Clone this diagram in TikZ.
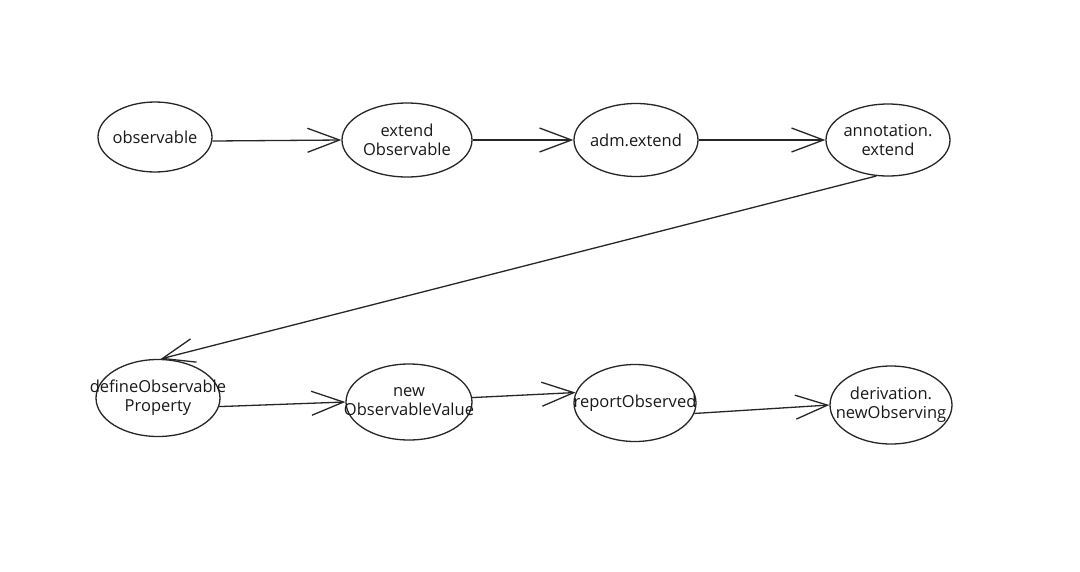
\documentclass[tikz,border=0pt]{standalone}
\usepackage{fontspec}
\setmainfont{Open Sans}
\usetikzlibrary{shapes.geometric,arrows.meta}
\newcommand{\zw}[1]{\makebox[0pt]{#1}}
\begin{document}
\begin{tikzpicture}[x=1pt,y=-1pt,
  stage/.style={ellipse,draw=black!85,line width=1.3pt,inner sep=0pt,
    font=\fontsize{16.5}{19}\selectfont,align=center,text=black!90},
  flow/.style={draw=black!85,line width=1.3pt,
    -{Straight Barb[length=32pt,width=24pt,line width=1.3pt]}}]
\useasboundingbox[fill=white] (0,0) rectangle (1080,571);
\node[stage,minimum width=114pt,minimum height=70pt] (a) at (155,137) {\zw{observable}};
\node[stage,minimum width=130pt,minimum height=74pt] (b) at (407,140) {\zw{extend}\\\zw{Observable}};
\node[stage,minimum width=124pt,minimum height=73pt] (c) at (636,140) {\zw{adm.extend}};
\node[stage,minimum width=124pt,minimum height=72pt] (d) at (888,140) {\zw{annotation.}\\\zw{extend}};
\node[stage,minimum width=124pt,minimum height=77pt] (e) at (158,398) {\zw{defineObservable}\\\zw{Property}};
\node[stage,minimum width=126pt,minimum height=76pt] (f) at (409,402) {\zw{new}\\\zw{ObservableValue}};
\node[stage,minimum width=122pt,minimum height=77pt] (g) at (635,403) {\zw{reportObserved}};
\node[stage,minimum width=122pt,minimum height=78pt] (h) at (891,405) {\zw{derivation.}\\\zw{newObserving}};
\draw[flow] (a.-4) -- (b.180);
\draw[flow] (b.east) -- (c.west);
\draw[flow] (c.east) -- (d.west);
\draw[flow] (d.252) -- (e.86);
\draw[flow] (e.-8) -- (f.west);
\draw[flow] (f.4) -- (g.170);
\draw[flow] (g.-10) -- (h.west);
\end{tikzpicture}
\end{document}
